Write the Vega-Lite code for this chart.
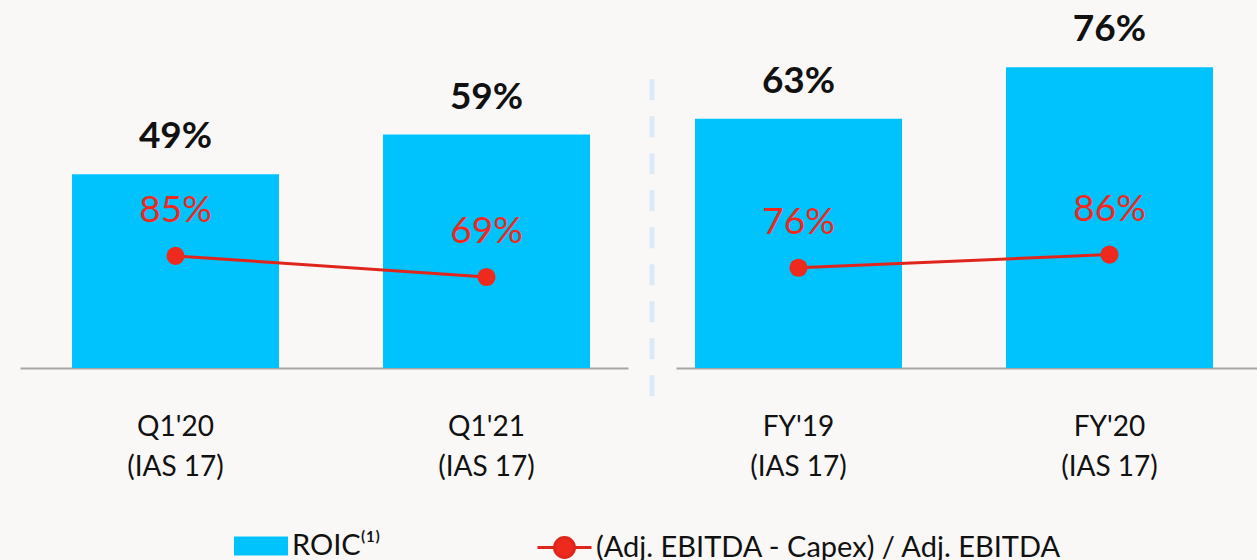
{
  "$schema": "https://vega.github.io/schema/vega-lite/v6.json",
  "background": "#f9f8f7",
  "padding": {"left": 20, "top": 4, "right": 0, "bottom": 0},
  "spacing": 23,
  "bounds": "flush",
  "config": {
    "view": {"stroke": null},
    "font": "Lato",
    "axisX": {
      "title": null,
      "labelAngle": 0,
      "domainColor": "#a6a6a6",
      "domainWidth": 2,
      "ticks": false,
      "tickSize": 0,
      "labelFont": "Lato",
      "labelFontSize": 28,
      "labelColor": "#111111",
      "labelPadding": 45,
      "labelLineHeight": 40,
      "labelExpr": "[datum.label, '(IAS 17)']"
    }
  },
  "hconcat": [
    {
      "width": 608,
      "height": 364,
      "data": {"values": [
        {"period": "Q1'20", "roic": 0.49, "ratio": 0.85},
        {"period": "Q1'21", "roic": 0.59, "ratio": 0.69}
      ]},
      "encoding": {
        "x": {"field": "period", "type": "nominal", "sort": null,
              "scale": {"paddingInner": 0.3344, "paddingOuter": 0.1447, "align": 0.578}}
      },
      "layer": [
        {
          "mark": {"type": "bar"},
          "encoding": {
            "y": {"field": "roic", "type": "quantitative", "scale": {"domain": [0, 0.92]}, "axis": null},
            "fill": {"datum": "ROIC⁽¹⁾", "scale": {"domain": ["ROIC⁽¹⁾"], "range": ["#00c3fd"]},
                     "legend": {"orient": "none", "legendX": 214, "legendY": 515, "title": null, "padding": 0,
                                "symbolType": "M-1,-0.35H1V0.35H-1Z", "symbolSize": 2916, "symbolStrokeWidth": 0,
                                "symbolOpacity": 1, "labelLimit": 600,
                                "labelOffset": 4, "labelFont": "Lato", "labelFontSize": 29, "labelColor": "#111111"}}
          }
        },
        {
          "mark": {"type": "text", "dy": -37, "fontSize": 37, "fontWeight": "bold", "color": "#111111", "font": "Lato"},
          "encoding": {
            "y": {"field": "roic", "type": "quantitative", "scale": {"domain": [0, 0.92]}, "axis": null},
            "text": {"field": "roic", "type": "quantitative", "format": ".0%"}
          }
        },
        {
          "mark": {"type": "line", "strokeWidth": 3},
          "encoding": {
            "y": {"field": "ratio", "type": "quantitative", "scale": {"domain": [0, 2.76]}, "axis": null},
            "stroke": {"datum": "(Adj. EBITDA - Capex) / Adj. EBITDA",
                       "scale": {"domain": ["(Adj. EBITDA - Capex) / Adj. EBITDA"], "range": ["#e0261c"]},
                       "legend": {"orient": "none", "legendX": 516, "legendY": 515, "title": null, "padding": 0,
                                  "symbolType": "M-1,0H-0.37A0.37,0.37 0 1,1 0.37,0A0.37,0.37 0 1,1 -0.37,0M0.37,0H1",
                                  "symbolSize": 2916, "symbolStrokeWidth": 3, "symbolFillColor": "#ee2a1e",
                                  "labelOffset": 3, "labelFont": "Lato", "labelFontSize": 29, "labelColor": "#111111",
                                  "labelLimit": 800,
                                  "encode": {"symbols": {"update": {"fill": {"value": "#ee2a1e"}, "fillOpacity": {"value": 1}}}}}}
          }
        },
        {
          "mark": {"type": "point", "filled": true, "size": 330, "color": "#ee2a1e", "opacity": 1},
          "encoding": {
            "y": {"field": "ratio", "type": "quantitative", "scale": {"domain": [0, 2.76]}, "axis": null}
          }
        },
        {
          "mark": {"type": "text", "dy": -45, "fontSize": 37, "color": "#f0291e", "font": "Lato"},
          "encoding": {
            "y": {"field": "ratio", "type": "quantitative", "scale": {"domain": [0, 2.76]}, "axis": null},
            "text": {"field": "ratio", "type": "quantitative", "format": ".0%"}
          }
        }
      ],
      "resolve": {"scale": {"y": "independent"}}
    },
    {
      "width": 2,
      "height": 364,
      "data": {"values": [{}]},
      "mark": {"type": "rule", "strokeWidth": 5, "strokeDash": [21, 16], "color": "#dce9f7"},
      "encoding": {
        "x": {"datum": 0, "type": "quantitative", "scale": {"domain": [-1, 1]}, "axis": null},
        "y": {"datum": 0.73, "type": "quantitative", "scale": {"domain": [0, 0.92]}, "axis": null},
        "y2": {"datum": -0.093}
      }
    },
    {
      "width": 581,
      "height": 364,
      "data": {"values": [
        {"period": "FY'19", "roic": 0.63, "ratio": 0.76},
        {"period": "FY'20", "roic": 0.76, "ratio": 0.86}
      ]},
      "encoding": {
        "x": {"field": "period", "type": "nominal", "sort": null,
              "scale": {"paddingInner": 0.3344, "paddingOuter": 0.1013, "align": 0.3016}}
      },
      "layer": [
        {
          "mark": {"type": "bar"},
          "encoding": {
            "y": {"field": "roic", "type": "quantitative", "scale": {"domain": [0, 0.92]}, "axis": null},
            "fill": {"datum": "ROIC⁽¹⁾"}
          }
        },
        {
          "mark": {"type": "text", "dy": -37, "fontSize": 37, "fontWeight": "bold", "color": "#111111", "font": "Lato"},
          "encoding": {
            "y": {"field": "roic", "type": "quantitative", "scale": {"domain": [0, 0.92]}, "axis": null},
            "text": {"field": "roic", "type": "quantitative", "format": ".0%"}
          }
        },
        {
          "mark": {"type": "line", "strokeWidth": 3},
          "encoding": {
            "y": {"field": "ratio", "type": "quantitative", "scale": {"domain": [0, 2.76]}, "axis": null},
            "stroke": {"datum": "(Adj. EBITDA - Capex) / Adj. EBITDA"}
          }
        },
        {
          "mark": {"type": "point", "filled": true, "size": 330, "color": "#ee2a1e", "opacity": 1},
          "encoding": {
            "y": {"field": "ratio", "type": "quantitative", "scale": {"domain": [0, 2.76]}, "axis": null}
          }
        },
        {
          "mark": {"type": "text", "dy": -45, "fontSize": 37, "color": "#f0291e", "font": "Lato"},
          "encoding": {
            "y": {"field": "ratio", "type": "quantitative", "scale": {"domain": [0, 2.76]}, "axis": null},
            "text": {"field": "ratio", "type": "quantitative", "format": ".0%"}
          }
        }
      ],
      "resolve": {"scale": {"y": "independent"}}
    }
  ]
}
